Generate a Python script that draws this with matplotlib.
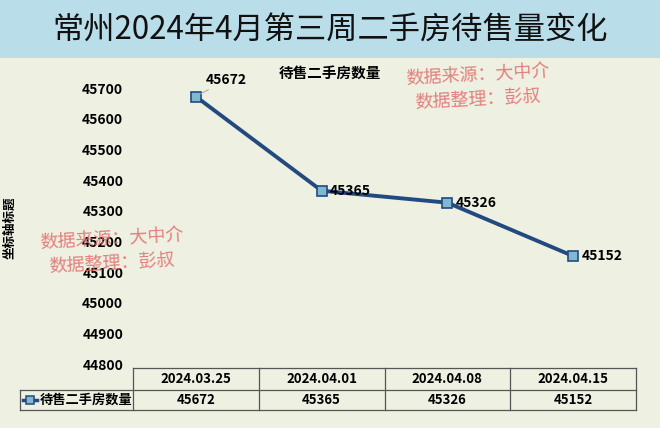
import matplotlib
matplotlib.use("Agg")
import matplotlib.pyplot as plt
from matplotlib.lines import Line2D

plt.rcParams['font.family'] = ['Noto Sans CJK SC', 'DejaVu Sans']

# données
dates = ["2024.03.25", "2024.04.01", "2024.04.08", "2024.04.15"]
stock = [45672, 45365, 45326, 45152]
serie = "待售二手房数量"
titre = "常州2024年4月第三周二手房待售量变化"
yticks = [44800, 44900, 45000, 45100, 45200, 45300, 45400, 45500, 45600, 45700]

W, H = 660, 428
fond = "#eef0e2"
bleu = "#234a80"

fig = plt.figure(figsize=(W / 100, H / 100), dpi=100, facecolor=fond)

# bandeau titre (px -> fraction)
fig.patches.append(plt.Rectangle((0, 1 - 58 / H), 1, 58 / H, transform=fig.transFigure,
                                 facecolor="#b9dde9", edgecolor="none"))
fig.text(330 / W, 1 - 31 / H, titre, ha="center", va="center", fontsize=22.5, color="#111111")

# axes principaux
x0, x1, ytop, ybot = 133, 636, 88, 364
ax = fig.add_axes([x0 / W, 1 - ybot / H, (x1 - x0) / W, (ybot - ytop) / H])
ax.set_facecolor("none")
ax.set_xlim(-0.5, len(dates) - 0.5)
ax.set_ylim(44800, 45700)
for s in ax.spines.values():
  s.set_visible(False)
ax.set_xticks([])
ax.set_yticks(yticks)
ax.set_yticklabels([str(v) for v in yticks], fontsize=10, fontweight="bold")
ax.tick_params(axis="y", length=0, pad=7)

xs = list(range(len(dates)))
ax.plot(xs, stock, color=bleu, lw=2.8, marker="s", markersize=7,
        markerfacecolor="#7fb8cf", markeredgecolor=bleu, markeredgewidth=1.2, clip_on=False)

# étiquettes de données
for i, v in enumerate(stock):
  if i == 0:
    ax.annotate(str(v), (i, v), xytext=(7, 12), textcoords="offset points",
                fontsize=10, fontweight="bold", ha="left", va="center",
                arrowprops=dict(arrowstyle="-", color="#b0b0b0", lw=0.8, shrinkA=0, shrinkB=4))
  else:
    ax.annotate(str(v), (i, v), xytext=(6, 0), textcoords="offset points",
                fontsize=10, fontweight="bold", ha="left", va="center")

# titre de série
fig.text(330 / W, 1 - 73 / H, serie, ha="center", va="center", fontsize=10.5, fontweight="bold")

# titre axe Y
fig.text(10 / W, 1 - 228 / H, "坐标轴标题", rotation=90, ha="center", va="center",
         fontsize=9, fontweight="bold")

# tableau de données
tr = ax.get_xaxis_transform()
hpx = ybot - ytop
r0, r1, r2 = -4 / hpx, -26 / hpx, -46 / hpx
cw = (x1 - x0) / len(dates)
lx = -0.5 - (x0 - 20) / cw
lc = "#555555"
ax.add_line(Line2D([-0.5, 3.5], [r0, r0], transform=tr, color=lc, lw=0.9, clip_on=False))
ax.add_line(Line2D([lx, 3.5], [r1, r1], transform=tr, color=lc, lw=0.9, clip_on=False))
ax.add_line(Line2D([lx, 3.5], [r2, r2], transform=tr, color=lc, lw=0.9, clip_on=False))
for e in [-0.5, 0.5, 1.5, 2.5, 3.5]:
  ax.add_line(Line2D([e, e], [r0, r2], transform=tr, color=lc, lw=0.9, clip_on=False))
ax.add_line(Line2D([lx, lx], [r1, r2], transform=tr, color=lc, lw=0.9, clip_on=False))
for i, d in enumerate(dates):
  ax.text(i, (r0 + r1) / 2, d, transform=tr, ha="center", va="center", fontsize=9.5, fontweight="bold")
  ax.text(i, (r1 + r2) / 2, str(stock[i]), transform=tr, ha="center", va="center",
          fontsize=9.5, fontweight="bold")

# légende dans le tableau
mx = lx + 10 / cw
ax.add_line(Line2D([lx + 3 / cw, lx + 17 / cw], [(r1 + r2) / 2] * 2, transform=tr, color=bleu, lw=2.5,
                   clip_on=False))
ax.add_line(Line2D([mx], [(r1 + r2) / 2], transform=tr, marker="s", markersize=6,
                   markerfacecolor="#7fb8cf", markeredgecolor=bleu, markeredgewidth=1.1, clip_on=False))
ax.text(lx + 20 / cw, (r1 + r2) / 2, serie, transform=tr, ha="left", va="center",
        fontsize=9.5, fontweight="bold")

# filigranes
rouge = "#e06c6c"
for cx, cy in [(478, 76), (112, 240)]:
  fig.text(cx / W, 1 - cy / H, "数据来源：大中介", ha="center", va="center", fontsize=13,
           color=rouge, alpha=0.85, rotation=3)
  fig.text(cx / W, 1 - (cy + 24) / H, "数据整理：彭叔", ha="center", va="center", fontsize=13,
           color=rouge, alpha=0.85, rotation=3)

fig.savefig("out.png", dpi=100, facecolor=fond)
